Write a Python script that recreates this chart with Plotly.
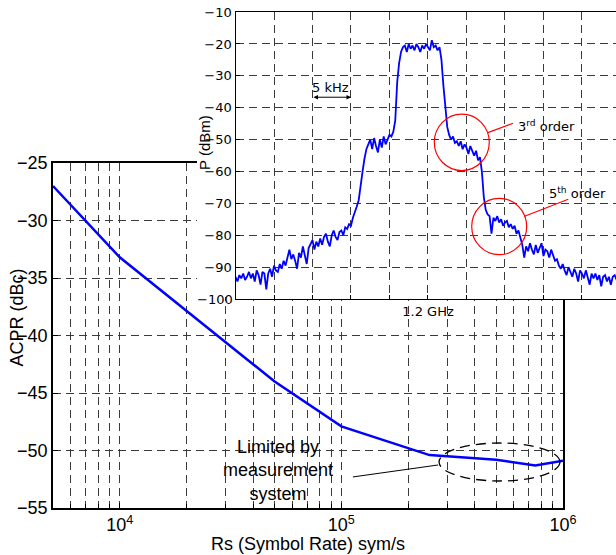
import numpy as np
import plotly.graph_objects as go

# ---------------- data ----------------
# Main chart: ACPR vs symbol rate
rs_symbol_rate = [5e3, 1e4, 5e4, 1e5, 2.5e5, 5e5, 7.5e5, 1e6]
acpr_dbc = [-27.0, -33.2, -44.0, -47.9, -50.4, -50.8, -51.3, -50.9]

# Inset: measured spectrum (dBm), sampled every 0.25 kHz from -25 kHz around 1.2 GHz
spec_start_khz = -25.0
spec_step_khz = 0.25
spec_dbm = [
    # -25 .. -10 kHz (noise floor rising)
    -93, -94.5, -92.5, -93.5, -92, -94, -93, -91.5, -93.5, -92,
    -94.5, -91, -92.5, -95.5, -91.5, -92, -97, -92, -90.5, -93,
    -89.5, -91, -91.5, -89, -90.5, -88, -89.5, -86.5, -84.5, -87.5,
    -86, -88, -90.5, -85.5, -87, -83.5, -86, -89, -84, -82.5,
    -81.5, -84.5, -82, -83.5, -81, -83, -80.5, -79.5, -82, -83.5,
    -80, -78.5, -80.5, -81.5, -79, -78.5, -80, -77.5, -78, -76.5,
    -77,
    # -9.75 .. -8 (edge)
    -74.5, -73, -71, -69, -64, -60, -56, -53,
    # -7.75 .. -4.5 (lower shoulder)
    -51.5, -50, -53, -49.5, -52, -54, -50, -52.5, -49, -51.5,
    -50, -48.5, -49, -47.5,
    # -4.25 .. -3.25 (edge)
    -44, -32, -26, -22.5, -21,
    # -3 .. 1.5 (main channel)
    -20.5, -22.5, -20, -21.5, -20.5, -22, -20, -21, -22.5, -20.5,
    -21.5, -20, -21, -22, -18.8, -21, -20.5, -22, -21,
    # 1.75 .. 2.5 (edge)
    -25, -33, -40, -46,
    # 2.75 .. 6.75 (3rd order)
    -48.5, -50, -49, -51, -50.5, -52, -50.5, -53, -51.5, -52.5,
    -54.5, -52, -53.5, -55, -53.5, -56.5, -55.5,
    # 7 .. 7.25
    -60, -68,
    # 7.5 .. 12 (5th order)
    -72, -73.5, -74, -79.5, -74.5, -75.5, -74, -76, -75, -77,
    -76, -75.5, -77.5, -76.5, -78, -77, -79.5, -78.5, -80.5,
    # 12.25 .. 16.5
    -83, -87, -83.5, -85, -82.5, -84.5, -86, -83, -85.5, -84,
    -82.5, -86.5, -84.5, -85, -87, -84.5, -86, -88,
    # 16.75 .. 24.5
    -87.5, -89.5, -90.5, -89, -91, -92.5, -90, -91.5, -93, -90.5,
    -92, -94.5, -91, -92, -93.5, -91, -93, -95.5, -92, -93.5,
    -92, -94, -92.5, -96, -93, -92.5, -94.5, -93, -95.5, -93,
    -92.5, -94,
]
spec_khz = spec_start_khz + spec_step_khz * np.arange(len(spec_dbm))

main_xticks = [1e4, 1e5, 1e6]
main_xticktext = ["10<sup>4</sup>", "10<sup>5</sup>", "10<sup>6</sup>"]
inset_xticks = [0]
inset_xticktext = ["1.2 GHz"]
inset_yticks = [-90, -80, -70, -60, -50, -40, -30, -20, -10]
inset_ybottom = -100

# ---------------- figure ----------------
W, H = 616, 555
ARIAL = "Liberation Sans, Arial, sans-serif"
DEJAVU = "DejaVu Sans, sans-serif"
GRID = "#3a3a3a"
DASH = "8px,5px"


def px_x(p):
    return p / W


def px_y(p):
    return 1 - p / H


fig = go.Figure()

fig.add_trace(go.Scatter(x=rs_symbol_rate, y=acpr_dbc, mode="lines",
                         line=dict(color="#0000ff", width=2.5),
                         xaxis="x", yaxis="y", showlegend=False))
# empty trace for the white blanking subplot
fig.add_trace(go.Scatter(x=[], y=[], xaxis="x2", yaxis="y2", showlegend=False))
fig.add_trace(go.Scatter(x=spec_khz, y=spec_dbm, mode="lines",
                         line=dict(color="#0000ff", width=1.8),
                         xaxis="x3", yaxis="y3", showlegend=False))

fig.update_layout(
    template="none",
    width=W, height=H,
    margin=dict(l=0, r=0, t=0, b=0, pad=0, autoexpand=False),
    paper_bgcolor="white", plot_bgcolor="white",
    font=dict(family=ARIAL, size=18, color="black"),
    showlegend=False,
    hovermode=False,
    xaxis=dict(
        type="log", range=[np.log10(5000), 6], automargin=False,
        domain=[px_x(53), px_x(563)], anchor="y",
        tickmode="array", tickvals=main_xticks, ticktext=main_xticktext,
        ticks="inside", ticklen=5, tickcolor="black",
        showgrid=True, gridcolor=GRID, griddash=DASH, gridwidth=1,
        minor=dict(dtick="D1", showgrid=True, gridcolor=GRID, griddash=DASH,
                   gridwidth=1, ticks="inside", ticklen=4, tickcolor="black"),
        showline=True, linecolor="black", linewidth=1.5, mirror=True,
        tickfont=dict(family=ARIAL, size=18, color="black"),
        ticklabeloverflow="allow",
        zeroline=False,
    ),
    yaxis=dict(
        range=[-55, -25], dtick=5, tick0=-55, automargin=False,
        domain=[px_y(508), px_y(163)], anchor="x",
        ticks="inside", ticklen=5, tickcolor="black",
        showgrid=True, gridcolor=GRID, griddash=DASH, gridwidth=1,
        showline=True, linecolor="black", linewidth=1.5, mirror=True,
        tickfont=dict(family=ARIAL, size=18, color="black"),
        ticklabeloverflow="allow",
        zeroline=False,
    ),
    xaxis2=dict(domain=[px_x(197), px_x(235)], anchor="y2", visible=False,
                range=[0, 1], automargin=False),
    yaxis2=dict(domain=[px_y(297), px_y(161)], anchor="x2", visible=False,
                range=[0, 1], automargin=False),
    xaxis3=dict(
        range=[-25, 24.42], domain=[px_x(235.5), 1.0], anchor="y3", automargin=False,
        tickmode="array", tickvals=inset_xticks, ticktext=inset_xticktext,
        ticks="inside", ticklen=4, tickcolor="black",
        showgrid=True, gridcolor=GRID, griddash=DASH, gridwidth=1,
        minor=dict(tick0=0, dtick=5, showgrid=True, gridcolor=GRID, griddash=DASH,
                   gridwidth=1, ticks="inside", ticklen=4, tickcolor="black"),
        showline=True, linecolor="black", linewidth=1.2, mirror=True,
        tickfont=dict(family=DEJAVU, size=13, color="black"),
        ticklabeloverflow="allow",
        zeroline=False,
    ),
    yaxis3=dict(
        range=[-100.05, -10], automargin=False,
        tickmode="array", tickvals=inset_yticks,
        domain=[px_y(299.2), px_y(12.1)], anchor="x3",
        ticks="inside", ticklen=4, tickcolor="black",
        showgrid=True, gridcolor=GRID, griddash=DASH, gridwidth=1,
        showline=True, linecolor="black", linewidth=1.2, mirror=False,
        tickfont=dict(family=DEJAVU, size=13, color="black"),
        ticklabeloverflow="allow",
        zeroline=False,
    ),
)

annotations = [
    dict(text="ACPR (dBc)", x=px_x(16.5), y=px_y(318), xref="paper", yref="paper",
         textangle=-90, showarrow=False, font=dict(family=ARIAL, size=18),
         xanchor="center", yanchor="middle"),
    dict(text="Rs (Symbol Rate) sym/s", x=px_x(308), y=px_y(544), xref="paper", yref="paper",
         showarrow=False, font=dict(family=ARIAL, size=18),
         xanchor="center", yanchor="middle"),
    dict(text="Limited by<br>measurement<br>system", x=4.714, y=-51.7, xref="x", yref="y",
         showarrow=False, font=dict(family=ARIAL, size=18),
         xanchor="center", yanchor="middle"),
    dict(text="P (dBm)", x=px_x(204), y=px_y(143), xref="paper", yref="paper",
         textangle=-90, showarrow=False, font=dict(family=ARIAL, size=15),
         xanchor="center", yanchor="middle"),
    # bottom tick label of the inset's y axis
    dict(text="\u2212" + str(abs(inset_ybottom)), x=px_x(234), y=inset_ybottom,
         xref="paper", yref="y3", showarrow=False,
         font=dict(family=DEJAVU, size=13, color="black"),
         xanchor="right", yanchor="middle", borderpad=0),
    dict(text="5 kHz", x=-12.6, y=-33.8, xref="x3", yref="y3", showarrow=False,
         font=dict(family=DEJAVU, size=13), xanchor="center", yanchor="middle"),
    dict(text="", x=-10.0, y=-36.7, ax=-15.06, ay=-36.7, xref="x3", yref="y3",
         axref="x3", ayref="y3", showarrow=True, arrowhead=2, arrowside="end+start",
         arrowsize=0.9, arrowwidth=1, arrowcolor="black", standoff=0, startstandoff=0),
    dict(text="3<sup>rd</sup> order", x=11.43, y=-45.7, xref="x3", yref="y3", showarrow=False,
         font=dict(family=DEJAVU, size=13), xanchor="left", yanchor="middle"),
    dict(text="5<sup>th</sup> order", x=15.42, y=-66.7, xref="x3", yref="y3", showarrow=False,
         font=dict(family=DEJAVU, size=13), xanchor="left", yanchor="middle"),
]
fig.update_layout(annotations=annotations)

shapes = [
    # red circles in the inset
    dict(type="circle", xref="x3", yref="y3", x0=0.82, x1=7.96, y0=-59.7, y1=-42.0,
         line=dict(color="red", width=1.2)),
    dict(type="line", xref="x3", yref="y3", x0=7.79, y0=-47.8, x1=11.04, y1=-44.86,
         line=dict(color="red", width=1.2)),
    dict(type="circle", xref="x3", yref="y3", x0=5.68, x1=12.82, y0=-86.1, y1=-68.4,
         line=dict(color="red", width=1.2)),
    dict(type="line", xref="x3", yref="y3", x0=12.47, y0=-74.1, x1=18.22, y1=-68.7,
         line=dict(color="red", width=1.2)),
    # dashed ellipse and leader line in the main chart
    dict(type="circle", xref="x domain", yref="y", x0=0.757, x1=0.994, y0=-52.65, y1=-49.35,
         line=dict(color="black", width=1.3, dash="10px,6px")),
    dict(type="line", xref="x domain", yref="y", x0=0.588, y0=-52.3, x1=0.755, y1=-51.26,
         line=dict(color="black", width=1)),
]
fig.update_layout(shapes=shapes)

fig.write_html("out.html")
